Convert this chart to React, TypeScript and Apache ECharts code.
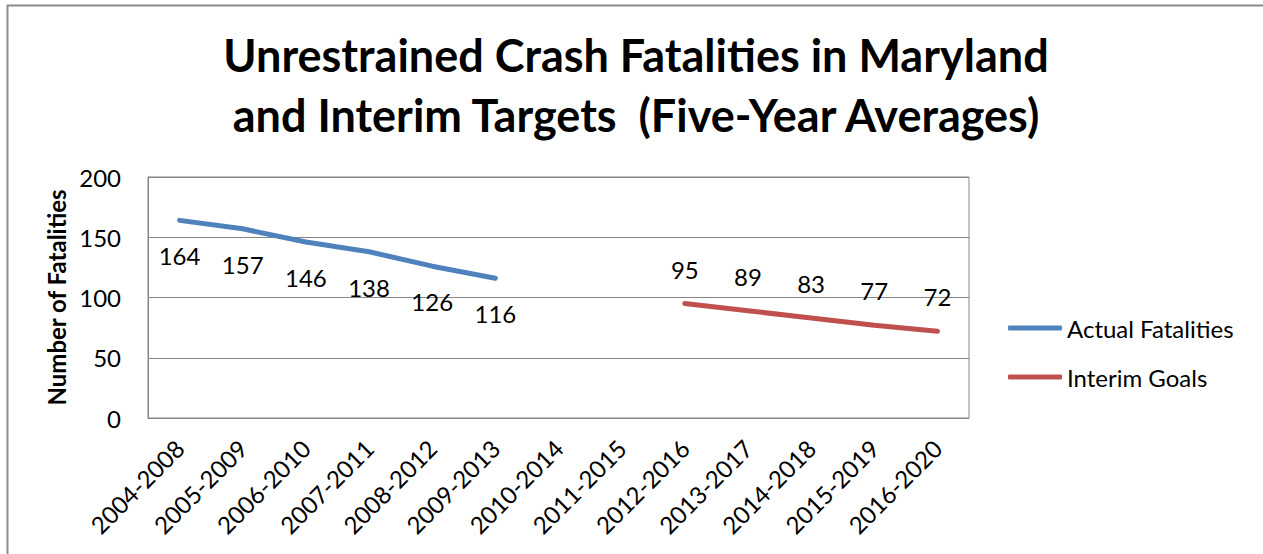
import React, { useEffect, useRef } from "react";
import * as echarts from "echarts";

const categories = [
  "2004-2008", "2005-2009", "2006-2010", "2007-2011", "2008-2012", "2009-2013",
  "2010-2014", "2011-2015", "2012-2016", "2013-2017", "2014-2018", "2015-2019", "2016-2020",
];
const actualFatalities = [164, 157, 146, 138, 126, 116, null, null, null, null, null, null, null];
const interimGoals = [null, null, null, null, null, null, null, null, 95, 89, 83, 77, 72];
const yTicks = [0, 50, 100, 150, 200];

const FONT = "Lato";

export default function App() {
  const ref = useRef<HTMLDivElement>(null);
  useEffect(() => {
    if (!ref.current) return;
    const chart = echarts.init(ref.current, null, { renderer: "svg" });
    chart.setOption({
      animation: false,
      backgroundColor: "#ffffff",
      title: {
        text: "Unrestrained Crash Fatalities in Maryland\nand Interim Targets  (Five-Year Averages)",
        left: 631,
        top: 20,
        textAlign: "center",
        textStyle: { fontFamily: FONT, fontWeight: "bold", fontSize: 45, lineHeight: 60, color: "#000" },
      },
      graphic: [
        {
          type: "rect",
          shape: { x: 7.5, y: 5.5, width: 1300, height: 600 },
          style: { fill: "none", stroke: "#8c8c8c", lineWidth: 2 },
          silent: true,
        },
      ],
      legend: {
        orient: "vertical",
        left: 1003,
        top: 309,
        itemWidth: 54,
        itemHeight: 5,
        itemGap: 21,
        textStyle: { fontFamily: FONT, fontSize: 24, lineHeight: 28, color: "#000" },
        data: [
          { name: "Actual Fatalities", icon: "roundRect", itemStyle: { color: "#4F81BD", opacity: 1 } },
          { name: "Interim Goals", icon: "roundRect", itemStyle: { color: "#C0504D", opacity: 1 } },
        ],
      },
      grid: {
        left: 148,
        top: 177,
        width: 821,
        height: 241,
        show: true,
        borderColor: "#868686",
        borderWidth: 1,
      },
      xAxis: {
        type: "category",
        data: categories,
        boundaryGap: true,
        axisLine: { lineStyle: { color: "#868686" } },
        axisTick: { show: false },
        axisLabel: {
          rotate: 45,
          margin: 26,
          interval: 0,
          fontFamily: FONT,
          fontSize: 24,
          color: "#000",
        },
      },
      yAxis: {
        type: "value",
        min: yTicks[0],
        max: yTicks[yTicks.length - 1],
        interval: 50,
        name: "Number of Fatalities",
        nameLocation: "middle",
        nameGap: 79,
        nameTextStyle: { fontFamily: FONT, fontWeight: "bold", fontSize: 24, color: "#000" },
        axisLine: { show: true, lineStyle: { color: "#868686" } },
        axisTick: { show: false },
        splitLine: { lineStyle: { color: "#868686" } },
        axisLabel: { margin: 27, fontFamily: FONT, fontSize: 24, color: "#000" },
      },
      series: [
        {
          name: "Actual Fatalities",
          type: "line",
          data: actualFatalities,
          symbol: "circle",
          symbolSize: 1,
          showSymbol: true,
          itemStyle: { color: "#4F81BD", opacity: 0 },
          color: "#4F81BD",
          lineStyle: { width: 5, color: "#4F81BD", cap: "round" },
          label: {
            show: true,
            position: "bottom",
            distance: 23,
            fontFamily: FONT,
            fontSize: 24,
            color: "#000",
            opacity: 1,
          },
        },
        {
          name: "Interim Goals",
          type: "line",
          data: interimGoals,
          symbol: "circle",
          symbolSize: 1,
          showSymbol: true,
          itemStyle: { color: "#C0504D", opacity: 0 },
          color: "#C0504D",
          lineStyle: { width: 5, color: "#C0504D", cap: "round" },
          label: {
            show: true,
            position: "top",
            distance: 22,
            fontFamily: FONT,
            fontSize: 24,
            color: "#000",
            opacity: 1,
          },
        },
      ],
    });
    return () => chart.dispose();
  }, []);
  return (
    <div
      ref={ref}
      style={{ position: "absolute", left: 0, top: 0, width: 1263, height: 554 }}
    />
  );
}
